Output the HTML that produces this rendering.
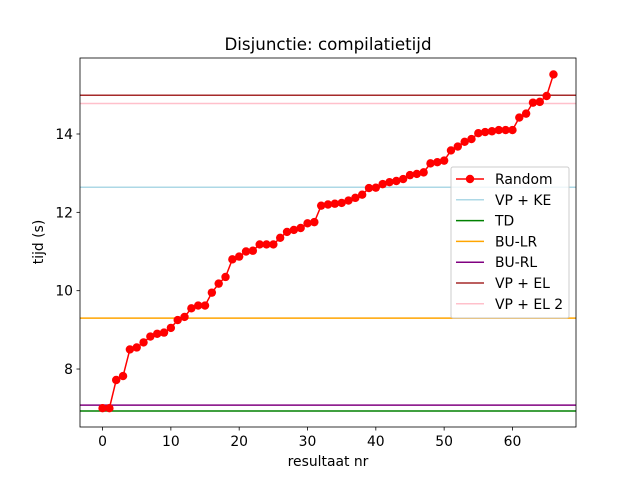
<!DOCTYPE html>
<html><head><meta charset="utf-8"><style>body{margin:0;background:#fff}svg{font-family:"DejaVu Sans","Liberation Sans",sans-serif}</style></head>
<body>
<svg id="c" width="640" height="480" viewBox="0 0 640 480"></svg>
<script>
const xTicks=[0,10,20,30,40,50,60];
const yTicks=[8,10,12,14];
const randomValues=[7.0,7.0,7.72,7.82,8.5,8.55,8.68,8.83,8.9,8.93,9.05,9.25,9.33,9.55,9.62,9.62,9.95,10.18,10.35,10.8,10.87,11.0,11.02,11.18,11.18,11.18,11.35,11.5,11.55,11.6,11.72,11.75,12.17,12.2,12.22,12.24,12.3,12.37,12.45,12.62,12.63,12.72,12.77,12.8,12.85,12.95,12.98,13.02,13.25,13.28,13.32,13.58,13.68,13.8,13.87,14.02,14.05,14.07,14.1,14.1,14.1,14.42,14.52,14.8,14.82,14.97,15.52];
const lineNames=["VP + KE","TD","BU-LR","BU-RL","VP + EL","VP + EL 2"];
const lineValues=[12.64,6.93,9.3,7.08,14.99,14.78];
const lineColors=["lightblue","green","orange","purple","brown","pink"];
const NS="http://www.w3.org/2000/svg",svg=document.getElementById('c');
const L=80,R=576,T=58,B=427,xmin=-3.3,xmax=69.3,ymin=6.52,ymax=15.94;
const X=v=>L+(v-xmin)/(xmax-xmin)*(R-L), Y=v=>B-(v-ymin)/(ymax-ymin)*(B-T);
function mk(t,a,p){const e=document.createElementNS(NS,t);for(const k in a)e.setAttribute(k,a[k]);(p||svg).appendChild(e);return e;}
lineValues.forEach((v,i)=>{const e=mk('line',{x1:L,x2:R,y1:Y(v),y2:Y(v),stroke:lineColors[i],'stroke-width':1.5});

});
const pl=mk('polyline',{points:randomValues.map((v,i)=>X(i)+','+Y(v)).join(' '),fill:'none',stroke:'red','stroke-width':1.5});


randomValues.forEach((v,i)=>{const c=mk('circle',{cx:X(i),cy:Y(v),r:4.2,fill:'red'});

});
const fr=mk('rect',{x:L,y:T,width:R-L,height:B-T,fill:'none',stroke:'#000','stroke-width':0.8});


xTicks.forEach(v=>{mk('line',{x1:X(v),x2:X(v),y1:B,y2:B+3.5,stroke:'#000','stroke-width':0.8});
const t=mk('text',{x:X(v),y:B+19,'text-anchor':'middle','font-size':13.9});t.textContent=v;

});
yTicks.forEach(v=>{mk('line',{x1:L-3.5,x2:L,y1:Y(v),y2:Y(v),stroke:'#000','stroke-width':0.8});
const t=mk('text',{x:L-7,y:Y(v)+5,'text-anchor':'end','font-size':13.9});t.textContent=v;

});
let t=mk('text',{x:328,y:50,'text-anchor':'middle','font-size':16.7});t.textContent='Disjunctie: compilatietijd';


t=mk('text',{x:328,y:466,'text-anchor':'middle','font-size':13.9});t.textContent='resultaat nr';


t=mk('text',{x:0,y:0,'text-anchor':'middle','font-size':13.9,transform:'translate(43,242) rotate(-90)'});t.textContent='tijd (s)';


const g=mk('g',{});


mk('rect',{x:451,y:167,width:118,height:151,rx:2,fill:'#fff','fill-opacity':0.8,stroke:'#ccc'},g);
const names=['Random'].concat(lineNames),cols=['red'].concat(lineColors);
names.forEach((n,i)=>{const y=179+i*20.8;
mk('line',{x1:456,x2:484,y1:y,y2:y,stroke:cols[i],'stroke-width':1.5},g);
if(i==0)mk('circle',{cx:470,cy:y,r:4.2,fill:'red'},g);
const tt=mk('text',{x:495,y:y+5,'font-size':13.9},g);tt.textContent=n;

});
</script>
</body></html>
